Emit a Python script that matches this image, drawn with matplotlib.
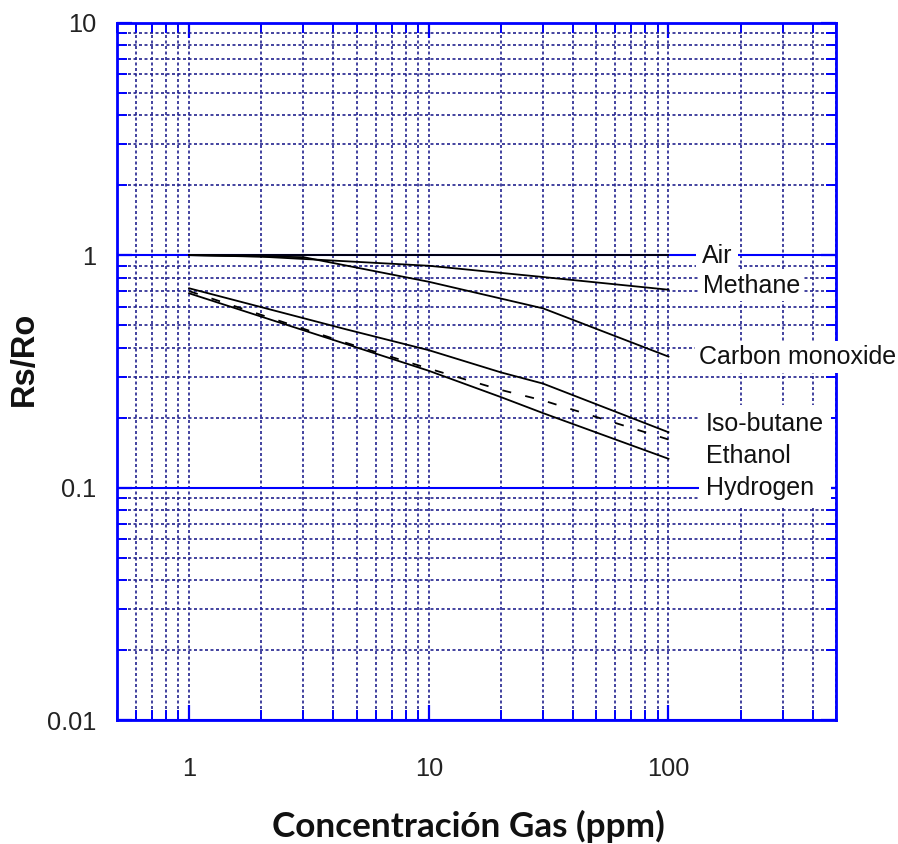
import numpy as np
import matplotlib
matplotlib.use("Agg")
import matplotlib.pyplot as plt
from matplotlib.ticker import LogLocator, FixedLocator, FixedFormatter, NullFormatter

# ---- data ----
air_x = [1, 100]
air_y = [1.0, 1.0]

methane_x = [1, 2, 10, 30, 100]
methane_y = [1.0, 0.985, 0.90, 0.805, 0.71]

co_x = [1, 3, 10, 30, 100]
co_y = [1.0, 0.98, 0.768, 0.59, 0.366]

isobutane_x = [1, 4.5, 10, 20, 30, 100]
isobutane_y = [0.72, 0.48, 0.39, 0.313, 0.28, 0.173]

ethanol_x = [1, 4.5, 10, 20, 30, 100]
ethanol_y = [0.70, 0.42, 0.325, 0.263, 0.237, 0.161]

hydrogen_x = [1, 4.5, 10, 20, 30, 100]
hydrogen_y = [0.685, 0.415, 0.318, 0.245, 0.209, 0.133]

x_ticks = [1, 10, 100]
x_tick_labels = ["1", "10", "100"]
y_ticks = [0.01, 0.1, 1, 10]
y_tick_labels = ["0.01", "0.1", "1", "10"]

BLUE = "#0000ff"
NAVY = "#23238f"
FONT = ["Liberation Sans", "DejaVu Sans"]

fig = plt.figure(figsize=(8.98, 8.44), dpi=100)
ax = fig.add_axes([117/898, 1-720/844, (836-117)/898, (720-22.7)/844])
ax.set_xscale("log")
ax.set_yscale("log")
ax.set_xlim(0.5, 500)
ax.set_ylim(0.01, 10)
ax.set_axisbelow(True)

# grid
ax.xaxis.set_major_locator(FixedLocator(x_ticks))
ax.yaxis.set_major_locator(FixedLocator(y_ticks))
ax.xaxis.set_minor_locator(LogLocator(base=10, subs=np.arange(2, 10), numticks=30))
ax.yaxis.set_minor_locator(LogLocator(base=10, subs=np.arange(2, 10), numticks=30))
ax.xaxis.set_major_formatter(FixedFormatter(x_tick_labels))
ax.yaxis.set_major_formatter(FixedFormatter(y_tick_labels))
ax.xaxis.set_minor_formatter(NullFormatter())
ax.yaxis.set_minor_formatter(NullFormatter())

ax.grid(which="minor", axis="both", ls=(0, (1.8, 1.5)), color=NAVY, lw=1.2)
ax.grid(which="major", axis="x", ls=(0, (1.8, 1.5)), color=NAVY, lw=1.2)
ax.grid(which="major", axis="y", ls="-", color=BLUE, lw=1.5)

for s in ax.spines.values():
    s.set_color(BLUE)
    s.set_linewidth(2)

ax.tick_params(which="both", direction="in", top=True, right=True, color=BLUE)
ax.tick_params(which="major", length=11, width=1.6)
ax.tick_params(which="minor", length=7, width=1.4)
ax.tick_params(axis="x", which="major", pad=27, labelsize=18.3, labelcolor="#222222")
ax.tick_params(axis="y", which="major", pad=15, labelsize=18.3, labelcolor="#222222")
for lab in ax.get_xticklabels() + ax.get_yticklabels():
    lab.set_family(FONT)

# curves
lw = 1.3
ax.plot(air_x, air_y, color="black", lw=lw)
ax.plot(methane_x, methane_y, color="black", lw=lw)
ax.plot(co_x, co_y, color="black", lw=lw)
ax.plot(isobutane_x, isobutane_y, color="black", lw=lw)
ax.plot(ethanol_x, ethanol_y, color="black", lw=lw, ls=(0, (5, 8)))
ax.plot(hydrogen_x, hydrogen_y, color="black", lw=lw)

# labels
def px2x(p):
    return 10 ** ((p - 190) / 239.3)

def py2y(p):
    return 10 ** ((255.1 - p) / 232.4)

tkw = dict(fontsize=18, family=FONT, color="#111111", va="center", ha="left", zorder=5)
ax.text(px2x(702), py2y(256), "Air",
        bbox=dict(facecolor="white", edgecolor="none", pad=4), **tkw)
ax.text(px2x(703), py2y(286), "Methane",
        bbox=dict(facecolor="white", edgecolor="none", pad=2), **tkw)
ax.text(px2x(699), py2y(357), "Carbon monoxide",
        bbox=dict(facecolor="white", edgecolor="none", pad=3), **tkw)
ax.text(px2x(706), py2y(456), "Iso-butane\nEthanol\nHydrogen", linespacing=1.42,
        bbox=dict(facecolor="white", edgecolor="none", pad=5), **tkw)

fig.text(24/898, 1-359/844, "Rs/Ro", rotation=90, fontsize=23.5, fontweight="bold",
         family=FONT, ha="center", va="center", color="#111111")
fig.text(468/898, 1-826/844, "Concentración Gas (ppm)", fontsize=25.3, fontweight="bold",
         family=["Lato", "DejaVu Sans"], ha="center", va="center", color="#111111")

fig.savefig("out.png", dpi=100, facecolor="white")
